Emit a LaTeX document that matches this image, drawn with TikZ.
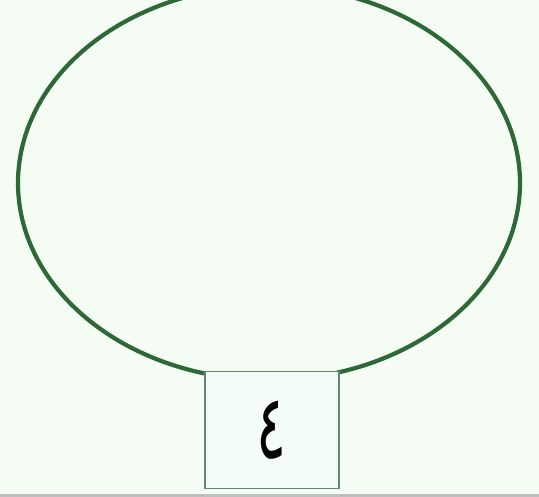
\documentclass[tikz,border=0pt]{standalone}
\usepackage{fontspec}
\newfontfamily\arabicfont[Script=Arabic]{DejaVu Sans}
\TeXXeTstate=1
\definecolor{ringgreen}{RGB}{45,105,55}
\definecolor{paper}{RGB}{245,252,244}
\definecolor{boxedge}{RGB}{100,135,115}
\definecolor{boxfill}{RGB}{244,252,250}
\begin{document}
\begin{tikzpicture}[x=1pt, y=-1pt,
        ring/.style={draw=ringgreen, line width=4.2pt},
        box/.style={draw=boxedge, line width=1.4pt, fill=boxfill, minimum width=134pt, minimum height=117pt, inner sep=0pt}
    ]
        \useasboundingbox (0,0) rectangle (539,497);
        \clip (0,0) rectangle (539,497);
        \fill[paper] (0,0) rectangle (539,497);
        \fill[black!25] (0,494) rectangle (539,497);

        \draw[ring] (269,183) ellipse [x radius=251, y radius=197];
        \node[box] (digit) at (272,430) {\scalebox{1.0}[1.6]{\arabicfont\fontsize{56}{56}\selectfont\beginR ٤\endR}};
    \end{tikzpicture}
\end{document}
